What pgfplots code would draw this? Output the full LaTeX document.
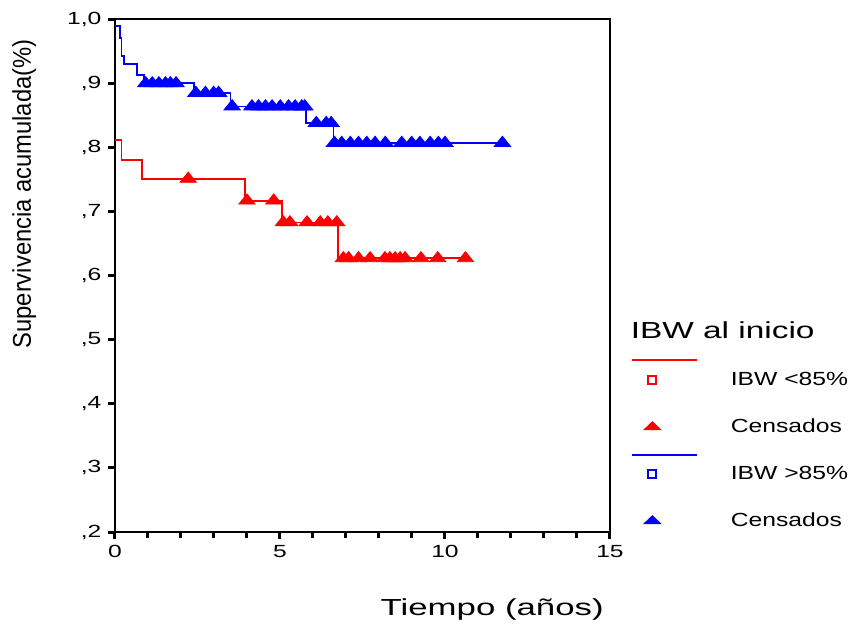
\documentclass[border=0pt]{standalone}
\usepackage{fontspec}
\setmainfont{Liberation Sans}
\usepackage{graphicx}
\usepackage{pgfplots}
\pgfplotsset{compat=1.18}

% SPSS text is stretched sideways
\newcommand\tl[1]{\scalebox{1.4}[1]{\fontsize{8.8}{10}\selectfont #1}}
\newcommand\legtxt[1]{\scalebox{1.3}[1]{\fontsize{9.5}{11}\selectfont #1}}

\begin{document}
\begin{tikzpicture}
\begin{axis}[
  at={(0,0)}, anchor=south west,
  scale only axis, width=247.5pt, height=256.35pt,
  xmin=0, xmax=15, ymin=0.2, ymax=1.0,
  axis line style={line width=0.9pt},
  xtick={0,5,10,15},
  xticklabels={\tl{0},\tl{5},\tl{10},\tl{15}},
  minor xtick={1,2,3,4,6,7,8,9,11,12,13,14},
  ytick={0.2,0.3,0.4,0.5,0.6,0.7,0.8,0.9,1.0},
  yticklabels={{\tl{,2}},{\tl{,3}},{\tl{,4}},{\tl{,5}},{\tl{,6}},{\tl{,7}},{\tl{,8}},{\tl{,9}},{\tl{1,0}}},
  xtick pos=bottom, ytick pos=left,
  tick align=outside,
  major tick length=3.3pt, minor tick length=3pt,
  tick style={black, line width=1.5pt},
  xticklabel style={inner sep=0pt, yshift=-3.3pt},
  yticklabel style={inner sep=0pt, xshift=-3.3pt},
  xlabel={\scalebox{1.5}[1]{\fontsize{11.6}{13}\selectfont Tiempo (años)}},
  xlabel style={at={(rel axis cs:0.762,-0.1507)}, anchor=center, inner sep=0pt},
  ylabel={\scalebox{0.99}[1.07]{\fontsize{12}{14}\selectfont Supervivencia acumulada(\%)}},
  ylabel style={at={(rel axis cs:-0.1835,0.6595)}, anchor=center, inner sep=0pt},
  legend cell align=left,
  legend style={draw=none, fill=none, inner sep=0pt, outer sep=0pt,
                at={(rel axis cs:1.0404,0.4067)}, anchor=north west,
                row sep=14pt, column sep=13pt,
                nodes={inner sep=0pt, text height=7.5pt, text depth=2pt}},
]
% legend: title, red group, blue group
\addlegendimage{legend image code/.code={\path (-11pt,0pt) (26pt,0pt);}}
\addlegendentry{\hspace*{-50pt}\scalebox{1.44}[1]{\fontsize{11.6}{13}\selectfont IBW al inicio}}
\addlegendimage{legend image code/.code={
  \draw[red, line width=0.6pt, overlay] (-10.2pt,10pt) -- (22.4pt,10pt);
  \draw[red, line width=0.9pt] (-2pt,-1.9pt) rectangle (2pt,1.9pt);
  \path (-11pt,0pt) (26pt,0pt);}}
\addlegendentry{\legtxt{IBW <85\%}}
\addlegendimage{legend image code/.code={
  \draw[red, mark=triangle*, mark size=4.8pt, mark options={yscale=0.55}] plot coordinates {(0pt,0pt)};
  \path (-11pt,0pt) (26pt,0pt);}}
\addlegendentry{\legtxt{Censados}}
\addlegendimage{legend image code/.code={
  \draw[blue, line width=0.6pt, overlay] (-10.2pt,9.5pt) -- (22.4pt,9.5pt);
  \draw[blue, line width=0.9pt] (-2pt,-1.9pt) rectangle (2pt,1.9pt);
  \path (-11pt,0pt) (26pt,0pt);}}
\addlegendentry{\legtxt{IBW >85\%}}
\addlegendimage{legend image code/.code={
  \draw[blue, mark=triangle*, mark size=4.8pt, mark options={yscale=0.55}] plot coordinates {(0pt,0pt)};
  \path (-11pt,0pt) (26pt,0pt);}}
\addlegendentry{\legtxt{Censados}}

% IBW <85%
\addplot[forget plot, const plot, red, line width=0.9pt] coordinates {
  (0,0.812)(0.2,0.781)(0.83,0.751)(3.95,0.717)(5.06,0.683)(6.75,0.627)(10.65,0.627)};
\addplot[forget plot, only marks, red, mark=triangle*, mark size=4.7pt, mark options={yscale=0.72}] coordinates {
  (2.22,0.751)(4.0,0.717)(4.81,0.717)
  (5.1,0.683)(5.3,0.683)(5.82,0.683)(6.22,0.683)(6.45,0.683)(6.72,0.683)
  (6.92,0.627)(7.08,0.627)(7.38,0.627)(7.73,0.627)(8.18,0.627)(8.33,0.627)
  (8.49,0.627)(8.64,0.627)(8.79,0.627)(9.27,0.627)(9.78,0.627)(10.62,0.627)};

% IBW >85%
\addplot[forget plot, const plot, blue, line width=0.9pt] coordinates {
  (0,0.989)(0.14,0.971)(0.2,0.943)(0.27,0.930)(0.66,0.913)(0.88,0.900)
  (2.39,0.885)(3.5,0.864)(5.79,0.838)(6.62,0.807)(11.74,0.807)};
\addplot[forget plot, only marks, blue, mark=triangle*, mark size=4.7pt, mark options={yscale=0.72}] coordinates {
  (0.93,0.900)(1.13,0.900)(1.33,0.900)(1.53,0.900)(1.68,0.900)(1.85,0.900)
  (2.45,0.885)(2.74,0.885)(2.99,0.885)(3.14,0.885)
  (3.55,0.864)(4.15,0.864)(4.35,0.864)(4.56,0.864)(4.76,0.864)(5.01,0.864)
  (5.26,0.864)(5.46,0.864)(5.66,0.864)(5.75,0.864)
  (6.1,0.838)(6.4,0.838)(6.55,0.838)
  (6.65,0.807)(6.87,0.807)(7.13,0.807)(7.38,0.807)(7.63,0.807)(7.88,0.807)
  (8.19,0.807)(8.69,0.807)(8.99,0.807)(9.24,0.807)(9.55,0.807)(9.8,0.807)
  (10.0,0.807)(11.74,0.807)};
\end{axis}
\pgfresetboundingbox
\path[use as bounding box] (-57.5pt,-45.5pt) rectangle (369pt,266pt);
\end{tikzpicture}
\end{document}
